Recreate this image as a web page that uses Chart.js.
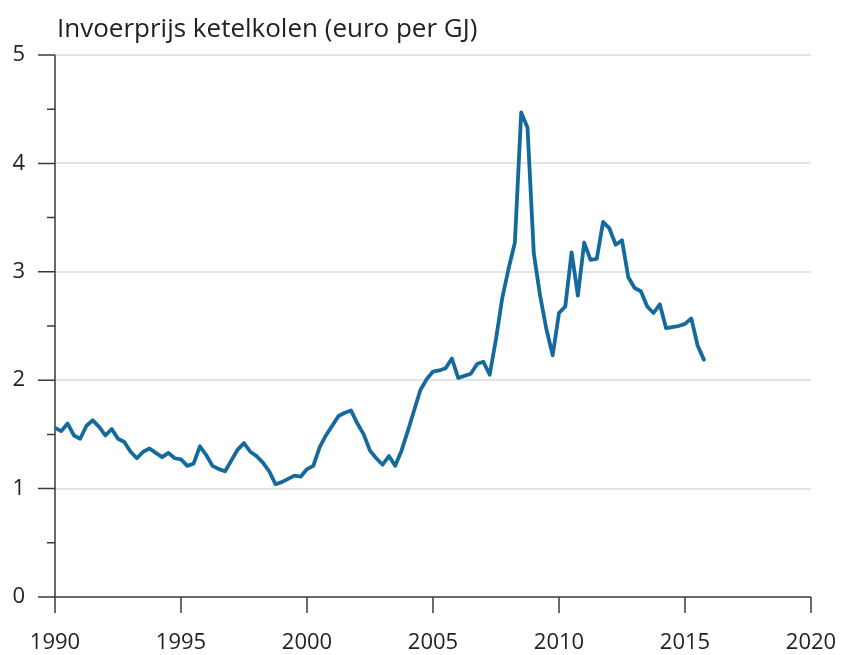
<!DOCTYPE html>
<html>
<head>
<meta charset="utf-8">
<script src="https://cdn.jsdelivr.net/npm/chart.js@4"></script>
<style>
  html, body { margin: 0; padding: 0; background: #ffffff; }
  #wrap { position: relative; width: 843px; height: 655px; }
</style>
</head>
<body>
<div id="wrap"><canvas id="c" width="843" height="655"></canvas></div>
<script>
// ---- data ----
const titleText = 'Invoerprijs ketelkolen (euro per GJ)';
const firstYear = 1990;
// quarterly prices, 1990 Q1 .. 2015 Q4 (euro per GJ)
const prices = [
  1.56, 1.53, 1.60, 1.49, 1.46, 1.58, 1.63, 1.57, 1.49, 1.55,
  1.46, 1.43, 1.34, 1.28, 1.34, 1.37, 1.33, 1.29, 1.33, 1.28,
  1.27, 1.21, 1.23, 1.39, 1.31, 1.21, 1.18, 1.16, 1.26, 1.36,
  1.42, 1.34, 1.30, 1.24, 1.16, 1.04, 1.06, 1.09, 1.12, 1.11,
  1.18, 1.21, 1.38, 1.49, 1.58, 1.67, 1.70, 1.72, 1.60, 1.50,
  1.35, 1.28, 1.22, 1.30, 1.21, 1.35, 1.53, 1.72, 1.91, 2.01,
  2.08, 2.09, 2.11, 2.20, 2.02, 2.04, 2.06, 2.15, 2.17, 2.05,
  2.38, 2.76, 3.03, 3.27, 4.47, 4.33, 3.17, 2.78, 2.47, 2.23,
  2.62, 2.68, 3.18, 2.78, 3.27, 3.11, 3.12, 3.46, 3.40, 3.25,
  3.29, 2.95, 2.85, 2.82, 2.68, 2.62, 2.70, 2.48, 2.49, 2.50,
  2.52, 2.57, 2.32, 2.19
];
// time position of each quarter (category axis of the series)
const quarters = prices.map((_, i) => firstYear + i / 4);
const xTicks = [1990, 1995, 2000, 2005, 2010, 2015, 2020];
const yTicks = [0, 1, 2, 3, 4, 5];
const yMinorTicks = [0.5, 1.5, 2.5, 3.5, 4.5];

// ---- styling ----
const FONT = "'Open Sans', 'DejaVu Sans', sans-serif";
const LINE_COLOR = '#14699d';
const AXIS_COLOR = '#3a3a3a';
const GRID_COLOR = '#e4e4e4';

const axesPlugin = {
  id: 'axesPlugin',
  beforeDatasetsDraw(chart) {
    const ctx = chart.ctx;
    const x = chart.scales.x, y = chart.scales.y;
    const left = x.getPixelForValue(xTicks[0]);
    const right = x.getPixelForValue(xTicks[xTicks.length - 1]);
    const top = y.getPixelForValue(yTicks[yTicks.length - 1]);
    const bottom = y.getPixelForValue(yTicks[0]);
    ctx.save();
    ctx.strokeStyle = AXIS_COLOR;
    ctx.lineWidth = 1.5;
    ctx.beginPath();
    ctx.moveTo(left, top); ctx.lineTo(left, bottom);
    ctx.moveTo(left, bottom); ctx.lineTo(right, bottom);
    yTicks.forEach(v => {
      const py = y.getPixelForValue(v);
      ctx.moveTo(left - 17, py); ctx.lineTo(left, py);
    });
    yMinorTicks.forEach(v => {
      const py = y.getPixelForValue(v);
      ctx.moveTo(left - 8, py); ctx.lineTo(left, py);
    });
    xTicks.forEach(v => {
      const px = x.getPixelForValue(v);
      ctx.moveTo(px, bottom); ctx.lineTo(px, bottom + 16);
    });
    ctx.stroke();
    ctx.restore();
  },
  afterDraw(chart) {
    const ctx = chart.ctx;
    ctx.save();
    ctx.fillStyle = '#222';
    ctx.font = "26px " + FONT;
    ctx.textAlign = 'left';
    ctx.textBaseline = 'alphabetic';
    ctx.fillText(titleText, chart.chartArea.left + 2, 37);
    ctx.restore();
  }
};

new Chart(document.getElementById('c'), {
  type: 'line',
  data: {
    datasets: [{
      data: quarters.map((q, i) => ({ x: q, y: prices[i] })),
      borderColor: LINE_COLOR,
      borderWidth: 3.8,
      pointRadius: 0,
      tension: 0,
      fill: false,
      borderJoinStyle: 'round',
      borderCapStyle: 'round'
    }]
  },
  options: {
    responsive: false,
    animation: false,
    layout: { padding: { top: 55, right: 32, bottom: 0, left: 0 } },
    plugins: { legend: { display: false }, tooltip: { enabled: false }, title: { display: false } },
    scales: {
      x: {
        type: 'linear',
        min: xTicks[0],
        max: xTicks[xTicks.length - 1],
        afterBuildTicks: s => { s.ticks = xTicks.map(v => ({ value: v })); },
        afterFit: s => { s.height = 58; s.paddingLeft = 0; s.paddingRight = 0; },
        grid: { display: false, drawTicks: false },
        border: { display: false },
        ticks: {
          padding: 33,
          color: '#222',
          font: { family: FONT, size: 22 },
          maxRotation: 0,
          autoSkip: false,
          callback: v => String(v)
        }
      },
      y: {
        min: yTicks[0],
        max: yTicks[yTicks.length - 1],
        afterBuildTicks: s => { s.ticks = yTicks.map(v => ({ value: v })); },
        afterFit: s => { s.width = 55; s.paddingTop = 0; s.paddingBottom = 0; },
        grid: {
          drawTicks: false,
          color: ctx => (ctx.tick && ctx.tick.value === 0) ? 'rgba(0,0,0,0)' : GRID_COLOR,
          lineWidth: 2
        },
        border: { display: false },
        ticks: {
          padding: 30,
          color: '#222',
          font: { family: FONT, size: 22 },
          callback: v => String(v)
        }
      }
    }
  },
  plugins: [axesPlugin]
});
</script>
</body>
</html>
